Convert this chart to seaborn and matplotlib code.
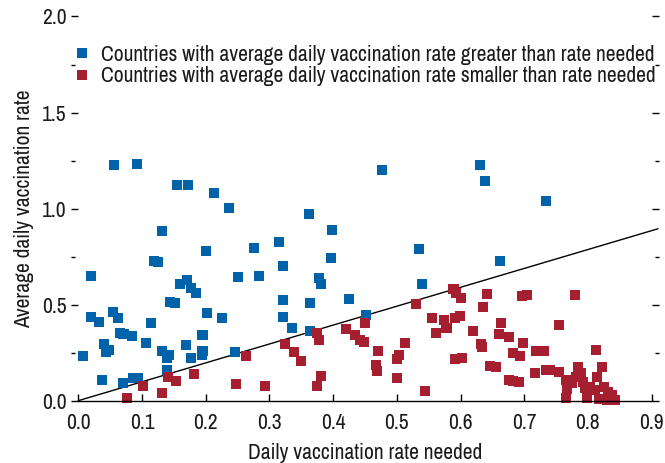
import numpy as np
import pandas as pd
import matplotlib
matplotlib.use("Agg")
import matplotlib.pyplot as plt
import seaborn as sns
from matplotlib.ticker import MultipleLocator, FormatStrFormatter

# Countries above the line (blue)
blue_x = [0.056, 0.092, 0.155, 0.172, 0.213, 0.237, 0.131, 0.200, 0.276, 0.119,
          0.125, 0.020, 0.251, 0.284, 0.160, 0.171, 0.177, 0.185, 0.144, 0.152,
          0.020, 0.033, 0.054, 0.062, 0.114, 0.202, 0.225, 0.065, 0.071, 0.084,
          0.106, 0.040, 0.049, 0.044, 0.008, 0.195, 0.169, 0.131, 0.142, 0.140,
          0.177, 0.195, 0.194, 0.246, 0.140, 0.037, 0.070, 0.086, 0.093, 0.315,
          0.322, 0.322, 0.321, 0.335, 0.363, 0.364, 0.378, 0.381, 0.396, 0.398,
          0.362, 0.477, 0.535, 0.539, 0.425, 0.451, 0.631, 0.638, 0.734, 0.662]
blue_y = [1.227, 1.232, 1.122, 1.122, 1.082, 1.003, 0.883, 0.779, 0.794, 0.727,
          0.722, 0.648, 0.645, 0.648, 0.607, 0.627, 0.586, 0.560, 0.515, 0.509,
          0.437, 0.411, 0.463, 0.431, 0.405, 0.457, 0.431, 0.353, 0.345, 0.338,
          0.301, 0.294, 0.263, 0.251, 0.233, 0.341, 0.289, 0.258, 0.240, 0.220,
          0.220, 0.261, 0.240, 0.254, 0.159, 0.107, 0.093, 0.116, 0.116, 0.827,
          0.702, 0.523, 0.437, 0.379, 0.364, 0.509, 0.640, 0.607, 0.744, 0.888,
          0.973, 1.200, 0.789, 0.607, 0.529, 0.447, 1.227, 1.145, 1.039, 0.727]

# Countries below the line (red)
red_x = [0.076, 0.101, 0.131, 0.141, 0.154, 0.181, 0.247, 0.264, 0.293, 0.325,
         0.338, 0.350, 0.374, 0.378, 0.381, 0.374, 0.450, 0.420, 0.434, 0.442,
         0.448, 0.470, 0.467, 0.469, 0.503, 0.501, 0.513, 0.501, 0.545, 0.530,
         0.589, 0.593, 0.600, 0.555, 0.574, 0.578, 0.561, 0.591, 0.599, 0.591,
         0.603, 0.619, 0.635, 0.641, 0.632, 0.633, 0.646, 0.655, 0.661, 0.664,
         0.676, 0.676, 0.682, 0.692, 0.683, 0.694, 0.696, 0.704, 0.698, 0.717,
         0.719, 0.731, 0.734, 0.740, 0.754, 0.780, 0.813, 0.754, 0.765, 0.767,
         0.766, 0.775, 0.785, 0.781, 0.789, 0.793, 0.796, 0.798, 0.804, 0.811,
         0.814, 0.818, 0.822, 0.825, 0.830, 0.832, 0.837, 0.843]
red_y = [0.015, 0.077, 0.041, 0.124, 0.102, 0.138, 0.086, 0.232, 0.076, 0.293,
         0.254, 0.207, 0.353, 0.315, 0.129, 0.077, 0.405, 0.374, 0.341, 0.315,
         0.305, 0.258, 0.185, 0.154, 0.237, 0.216, 0.299, 0.117, 0.049, 0.503,
         0.581, 0.563, 0.535, 0.430, 0.421, 0.379, 0.353, 0.431, 0.440, 0.219,
         0.224, 0.364, 0.489, 0.555, 0.294, 0.277, 0.181, 0.176, 0.346, 0.405,
         0.329, 0.110, 0.103, 0.098, 0.246, 0.233, 0.546, 0.549, 0.298, 0.145,
         0.259, 0.259, 0.159, 0.159, 0.393, 0.549, 0.264, 0.150, 0.110, 0.060,
         0.015, 0.091, 0.174, 0.124, 0.142, 0.095, 0.065, 0.015, 0.072, 0.055,
         0.124, 0.011, 0.175, 0.072, 0.003, 0.046, 0.029, 0.002]

# line of equal rates
line_x = [0.0, 0.91]
line_y = [0.0, 0.895]

label_hi = "Countries with average daily vaccination rate greater than rate needed"
label_lo = "Countries with average daily vaccination rate smaller than rate needed"

df = pd.concat([
    pd.DataFrame({"x": blue_x, "y": blue_y, "group": label_hi}),
    pd.DataFrame({"x": red_x, "y": red_y, "group": label_lo}),
])

sns.set_style("white")
plt.rcParams["font.family"] = ["Archivo Narrow", "DejaVu Sans"]
plt.rcParams["text.color"] = "#1a1a1a"
plt.rcParams["axes.labelcolor"] = "#1a1a1a"
plt.rcParams["xtick.labelcolor"] = "#1a1a1a"
plt.rcParams["ytick.labelcolor"] = "#1a1a1a"
fs = 15.5

fig = plt.figure(figsize=(6.65, 4.63), dpi=100)
ax = fig.add_axes([0.1177, 0.1346, 0.8622, 0.8298])

ax.plot(line_x, line_y, color="black", lw=1.0, clip_on=False, zorder=1)

sns.scatterplot(data=df, x="x", y="y", hue="group", marker="s", s=52,
                linewidth=0, palette=["#0062A8", "#A61F30"], ax=ax,
                clip_on=False, zorder=2)

ax.set_xlim(0, 0.9)
ax.set_ylim(0, 2.0)
ax.xaxis.set_major_locator(MultipleLocator(0.1))
ax.yaxis.set_major_locator(MultipleLocator(0.5))
ax.yaxis.set_minor_locator(MultipleLocator(0.25))
ax.xaxis.set_major_formatter(FormatStrFormatter("%.1f"))
ax.yaxis.set_major_formatter(FormatStrFormatter("%.1f"))

# only the bottom axis line, y ticks on both sides
ax.spines["top"].set_visible(False)
ax.spines["left"].set_visible(False)
ax.spines["right"].set_visible(False)
ax.spines["left"].set_position(("outward", 5.3))
ax.spines["right"].set_position(("outward", 5.3))
ax.spines["bottom"].set_color("black")
ax.spines["bottom"].set_linewidth(1.0)

ax.tick_params(axis="x", direction="in", length=5, width=1.0, color="black",
               pad=9, labelsize=fs, bottom=True)
ax.tick_params(axis="y", which="major", direction="in", length=5.3, width=1.0,
               color="black", pad=3, labelsize=fs, left=True, right=True)
ax.tick_params(axis="y", which="minor", direction="in", length=2.7, width=1.0,
               color="black", left=True, right=True)

ax.set_xlabel("Daily vaccination rate needed", fontsize=fs, labelpad=7)
ax.set_ylabel("Average daily vaccination rate", fontsize=fs, labelpad=6)

ax.legend(loc="upper left", bbox_to_anchor=(-0.004, 0.927), frameon=False,
          borderaxespad=0, borderpad=0, handlelength=0.58, handletextpad=0.58,
          labelspacing=0.08, fontsize=fs, title=None)

fig.savefig("out.png", dpi=100)
